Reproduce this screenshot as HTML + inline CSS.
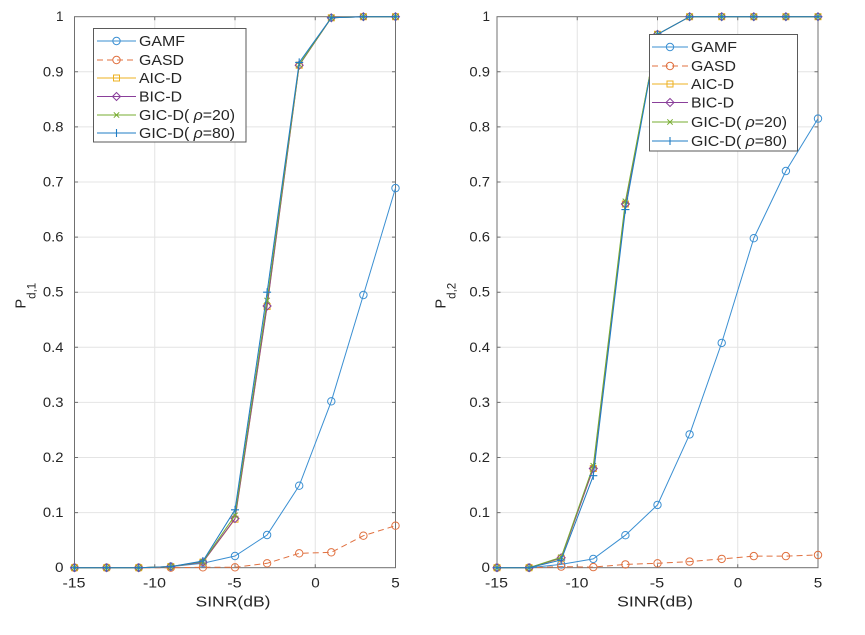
<!DOCTYPE html>
<html><head><meta charset="utf-8"><style>
html,body{margin:0;padding:0;background:#fff;}
svg{display:block;}
text{font-family:"Liberation Sans",Arial,sans-serif;fill:#262626;}
</style></head><body>
<svg width="865" height="635" viewBox="0 0 865 635" xmlns="http://www.w3.org/2000/svg">
<defs>
<marker id="mA" markerWidth="12" markerHeight="12" refX="6" refY="6" markerUnits="userSpaceOnUse" overflow="visible"><circle cx="6" cy="6" r="3.7" fill="none" stroke="#3a8fd2" stroke-width="1"/></marker>
<marker id="mB" markerWidth="12" markerHeight="12" refX="6" refY="6" markerUnits="userSpaceOnUse" overflow="visible"><circle cx="6" cy="6" r="3.7" fill="none" stroke="#e0703f" stroke-width="1"/></marker>
<marker id="mC" markerWidth="12" markerHeight="12" refX="6" refY="6" markerUnits="userSpaceOnUse" overflow="visible"><rect x="3" y="3" width="6" height="6" fill="none" stroke="#edb120" stroke-width="1"/></marker>
<marker id="mD" markerWidth="12" markerHeight="12" refX="6" refY="6" markerUnits="userSpaceOnUse" overflow="visible"><path d="M6 2 L10 6 L6 10 L2 6 Z" fill="none" stroke="#8a3f9a" stroke-width="1"/></marker>
<marker id="mE" markerWidth="12" markerHeight="12" refX="6" refY="6" markerUnits="userSpaceOnUse" overflow="visible"><path d="M3.3 3.3 L8.7 8.7 M8.7 3.3 L3.3 8.7" fill="none" stroke="#77ac30" stroke-width="1"/></marker>
<marker id="mF" markerWidth="12" markerHeight="12" refX="6" refY="6" markerUnits="userSpaceOnUse" overflow="visible"><path d="M6 2 L6 10 M2 6 L10 6" fill="none" stroke="#1f7cc4" stroke-width="1.1"/></marker>
</defs>

<!-- ============ LEFT AXES ============ -->
<g>
<rect x="74.5" y="16.7" width="321" height="551" fill="#fff"/>
<g stroke="#e4e4e4" stroke-width="1">
<line x1="154.75" y1="16.7" x2="154.75" y2="567.7"/>
<line x1="235" y1="16.7" x2="235" y2="567.7"/>
<line x1="315.25" y1="16.7" x2="315.25" y2="567.7"/>
<line x1="74.5" y1="512.6" x2="395.5" y2="512.6"/>
<line x1="74.5" y1="457.5" x2="395.5" y2="457.5"/>
<line x1="74.5" y1="402.4" x2="395.5" y2="402.4"/>
<line x1="74.5" y1="347.3" x2="395.5" y2="347.3"/>
<line x1="74.5" y1="292.2" x2="395.5" y2="292.2"/>
<line x1="74.5" y1="237.1" x2="395.5" y2="237.1"/>
<line x1="74.5" y1="182.0" x2="395.5" y2="182.0"/>
<line x1="74.5" y1="126.9" x2="395.5" y2="126.9"/>
<line x1="74.5" y1="71.8" x2="395.5" y2="71.8"/>
</g>
<g stroke="#707070" stroke-width="1">
<path d="M154.75 567.7 v-3.5 M235 567.7 v-3.5 M315.25 567.7 v-3.5 M154.75 16.7 v3.5 M235 16.7 v3.5 M315.25 16.7 v3.5"/>
<path d="M74.5 512.6 h3.5 M74.5 457.5 h3.5 M74.5 402.4 h3.5 M74.5 347.3 h3.5 M74.5 292.2 h3.5 M74.5 237.1 h3.5 M74.5 182 h3.5 M74.5 126.9 h3.5 M74.5 71.8 h3.5"/>
<path d="M395.5 512.6 h-3.5 M395.5 457.5 h-3.5 M395.5 402.4 h-3.5 M395.5 347.3 h-3.5 M395.5 292.2 h-3.5 M395.5 237.1 h-3.5 M395.5 182 h-3.5 M395.5 126.9 h-3.5 M395.5 71.8 h-3.5"/>
<rect x="74.5" y="16.7" width="321" height="551" fill="none"/>
</g>

<g fill="none" stroke-width="1">
<polyline stroke="#3a8fd2" marker-start="url(#mA)" marker-mid="url(#mA)" marker-end="url(#mA)" points="74.5,567.7 106.6,567.7 138.7,567.7 170.8,566.6 202.9,563.3 235,556 267.1,535 299.2,485.7 331.3,401.3 363.4,295 395.5,188.1"/>
<polyline stroke="#e0703f" stroke-dasharray="6,4" marker-start="url(#mB)" marker-mid="url(#mB)" marker-end="url(#mB)" points="74.5,567.7 106.6,567.7 138.7,567.7 170.8,567.7 202.9,567.3 235,567.3 267.1,563.3 299.2,553.3 331.3,552.3 363.4,535.7 395.5,525.7"/>
<polyline stroke="#edb120" marker-start="url(#mC)" marker-mid="url(#mC)" marker-end="url(#mC)" points="74.5,567.7 106.6,567.7 138.7,567.7 170.8,566.6 202.9,562.2 235,519.2 267.1,306.5 299.2,65.2 331.3,17.8 363.4,16.7 395.5,16.7"/>
<polyline stroke="#8a3f9a" marker-start="url(#mD)" marker-mid="url(#mD)" marker-end="url(#mD)" points="74.5,567.7 106.6,567.7 138.7,567.7 170.8,566.6 202.9,562.2 235,518.5 267.1,306 299.2,65.2 331.3,17.8 363.4,16.7 395.5,16.7"/>
<polyline stroke="#77ac30" marker-start="url(#mE)" marker-mid="url(#mE)" marker-end="url(#mE)" points="74.5,567.7 106.6,567.7 138.7,567.7 170.8,566.6 202.9,561.5 235,515.4 267.1,300.5 299.2,64.6 331.3,17.8 363.4,16.7 395.5,16.7"/>
<polyline stroke="#1f7cc4" marker-start="url(#mF)" marker-mid="url(#mF)" marker-end="url(#mF)" points="74.5,567.7 106.6,567.7 138.7,567.7 170.8,566.6 202.9,561 235,509.8 267.1,292.2 299.2,62.4 331.3,17.8 363.4,16.7 395.5,16.7"/>
</g>

<!-- legend left -->
<rect x="93.5" y="28.5" width="152.5" height="113.5" fill="#fff" stroke="#5a5a5a" stroke-width="1"/>
<g fill="none" stroke-width="1">
<polyline stroke="#3a8fd2" marker-mid="url(#mA)" points="97,41 116.5,41 136,41"/>
<polyline stroke="#e0703f" stroke-dasharray="6,4" marker-mid="url(#mB)" points="97,60 116.5,60 136,60"/>
<polyline stroke="#edb120" marker-mid="url(#mC)" points="97,78 116.5,78 136,78"/>
<polyline stroke="#8a3f9a" marker-mid="url(#mD)" points="97,96.5 116.5,96.5 136,96.5"/>
<polyline stroke="#77ac30" marker-mid="url(#mE)" points="97,115 116.5,115 136,115"/>
<polyline stroke="#1f7cc4" marker-mid="url(#mF)" points="97,133 116.5,133 136,133"/>
</g>
<g font-size="14.5">
<text x="139" y="46" textLength="46" lengthAdjust="spacingAndGlyphs">GAMF</text>
<text x="139" y="65" textLength="45" lengthAdjust="spacingAndGlyphs">GASD</text>
<text x="139" y="83" textLength="43" lengthAdjust="spacingAndGlyphs">AIC-D</text>
<text x="139" y="101.5" textLength="43" lengthAdjust="spacingAndGlyphs">BIC-D</text>
<text x="139" y="120" textLength="96" lengthAdjust="spacingAndGlyphs">GIC-D( <tspan font-style="italic">ρ</tspan>=20)</text>
<text x="139" y="138" textLength="96" lengthAdjust="spacingAndGlyphs">GIC-D( <tspan font-style="italic">ρ</tspan>=80)</text>
</g>

<!-- y tick labels left -->
<g font-size="13.5" text-anchor="end">
<text x="63.5" y="572.2" textLength="8.5" lengthAdjust="spacingAndGlyphs">0</text>
<text x="63.5" y="517.1" textLength="20.6" lengthAdjust="spacingAndGlyphs">0.1</text>
<text x="63.5" y="462" textLength="20.6" lengthAdjust="spacingAndGlyphs">0.2</text>
<text x="63.5" y="406.9" textLength="20.6" lengthAdjust="spacingAndGlyphs">0.3</text>
<text x="63.5" y="351.8" textLength="20.6" lengthAdjust="spacingAndGlyphs">0.4</text>
<text x="63.5" y="296.7" textLength="20.6" lengthAdjust="spacingAndGlyphs">0.5</text>
<text x="63.5" y="241.6" textLength="20.6" lengthAdjust="spacingAndGlyphs">0.6</text>
<text x="63.5" y="186.5" textLength="20.6" lengthAdjust="spacingAndGlyphs">0.7</text>
<text x="63.5" y="131.4" textLength="20.6" lengthAdjust="spacingAndGlyphs">0.8</text>
<text x="63.5" y="76.3" textLength="20.6" lengthAdjust="spacingAndGlyphs">0.9</text>
<text x="63.5" y="21.2" textLength="7.5" lengthAdjust="spacingAndGlyphs">1</text>
</g>
<g font-size="13.5" text-anchor="middle">
<text x="74" y="587.5" textLength="23" lengthAdjust="spacingAndGlyphs">-15</text>
<text x="154.5" y="587.5" textLength="23" lengthAdjust="spacingAndGlyphs">-10</text>
<text x="234.5" y="587.5" textLength="14.5" lengthAdjust="spacingAndGlyphs">-5</text>
<text x="315.5" y="587.5" textLength="8.5" lengthAdjust="spacingAndGlyphs">0</text>
<text x="395.5" y="587.5" textLength="8.5" lengthAdjust="spacingAndGlyphs">5</text>
</g>
<text x="233" y="606.5" font-size="15" text-anchor="middle" textLength="75" lengthAdjust="spacingAndGlyphs">SINR(dB)</text>
<text transform="translate(25.5,308.5) rotate(-90)" font-size="14.5">P<tspan font-size="11.5" dy="10">d,1</tspan></text>
</g>

<!-- ============ RIGHT AXES ============ -->
<g>
<rect x="497" y="16.7" width="321" height="551" fill="#fff"/>
<g stroke="#e4e4e4" stroke-width="1">
<line x1="577.25" y1="16.7" x2="577.25" y2="567.7"/>
<line x1="657.5" y1="16.7" x2="657.5" y2="567.7"/>
<line x1="737.75" y1="16.7" x2="737.75" y2="567.7"/>
<line x1="497" y1="512.6" x2="818" y2="512.6"/>
<line x1="497" y1="457.5" x2="818" y2="457.5"/>
<line x1="497" y1="402.4" x2="818" y2="402.4"/>
<line x1="497" y1="347.3" x2="818" y2="347.3"/>
<line x1="497" y1="292.2" x2="818" y2="292.2"/>
<line x1="497" y1="237.1" x2="818" y2="237.1"/>
<line x1="497" y1="182.0" x2="818" y2="182.0"/>
<line x1="497" y1="126.9" x2="818" y2="126.9"/>
<line x1="497" y1="71.8" x2="818" y2="71.8"/>
</g>
<g stroke="#707070" stroke-width="1">
<path d="M577.25 567.7 v-3.5 M657.5 567.7 v-3.5 M737.75 567.7 v-3.5 M577.25 16.7 v3.5 M657.5 16.7 v3.5 M737.75 16.7 v3.5"/>
<path d="M497 512.6 h3.5 M497 457.5 h3.5 M497 402.4 h3.5 M497 347.3 h3.5 M497 292.2 h3.5 M497 237.1 h3.5 M497 182 h3.5 M497 126.9 h3.5 M497 71.8 h3.5"/>
<path d="M818 512.6 h-3.5 M818 457.5 h-3.5 M818 402.4 h-3.5 M818 347.3 h-3.5 M818 292.2 h-3.5 M818 237.1 h-3.5 M818 182 h-3.5 M818 126.9 h-3.5 M818 71.8 h-3.5"/>
<rect x="497" y="16.7" width="321" height="551" fill="none"/>
</g>

<g fill="none" stroke-width="1">
<polyline stroke="#3a8fd2" marker-start="url(#mA)" marker-mid="url(#mA)" marker-end="url(#mA)" points="497,567.7 529.1,567.7 561.2,564.4 593.3,558.9 625.4,535.2 657.5,504.9 689.6,434.4 721.7,342.9 753.8,238.2 785.9,171 818,118.6"/>
<polyline stroke="#e0703f" stroke-dasharray="6,4" marker-start="url(#mB)" marker-mid="url(#mB)" marker-end="url(#mB)" points="497,567.7 529.1,567.7 561.2,566.6 593.3,567.1 625.4,564.4 657.5,563.3 689.6,561.6 721.7,558.9 753.8,556.1 785.9,556.1 818,555"/>
<polyline stroke="#edb120" marker-start="url(#mC)" marker-mid="url(#mC)" marker-end="url(#mC)" points="497,567.7 529.1,567.7 561.2,558.3 593.3,468.5 625.4,204 657.5,34.3 689.6,16.7 721.7,16.7 753.8,16.7 785.9,16.7 818,16.7"/>
<polyline stroke="#8a3f9a" marker-start="url(#mD)" marker-mid="url(#mD)" marker-end="url(#mD)" points="497,567.7 529.1,567.7 561.2,557.8 593.3,468.5 625.4,204 657.5,34.3 689.6,16.7 721.7,16.7 753.8,16.7 785.9,16.7 818,16.7"/>
<polyline stroke="#77ac30" marker-start="url(#mE)" marker-mid="url(#mE)" marker-end="url(#mE)" points="497,567.7 529.1,567.7 561.2,557.2 593.3,465.8 625.4,201.3 657.5,34.3 689.6,16.7 721.7,16.7 753.8,16.7 785.9,16.7 818,16.7"/>
<polyline stroke="#1f7cc4" marker-start="url(#mF)" marker-mid="url(#mF)" marker-end="url(#mF)" points="497,567.7 529.1,567.7 561.2,560 593.3,475.7 625.4,209.6 657.5,34.3 689.6,16.7 721.7,16.7 753.8,16.7 785.9,16.7 818,16.7"/>
</g>

<!-- legend right -->
<rect x="649.5" y="34.5" width="148" height="116.5" fill="#fff" stroke="#5a5a5a" stroke-width="1"/>
<g fill="none" stroke-width="1">
<polyline stroke="#3a8fd2" marker-mid="url(#mA)" points="652,47 670,47 688,47"/>
<polyline stroke="#e0703f" stroke-dasharray="6,4" marker-mid="url(#mB)" points="652,66 670,66 688,66"/>
<polyline stroke="#edb120" marker-mid="url(#mC)" points="652,84 670,84 688,84"/>
<polyline stroke="#8a3f9a" marker-mid="url(#mD)" points="652,102.5 670,102.5 688,102.5"/>
<polyline stroke="#77ac30" marker-mid="url(#mE)" points="652,122 670,122 688,122"/>
<polyline stroke="#1f7cc4" marker-mid="url(#mF)" points="652,141 670,141 688,141"/>
</g>
<g font-size="14.5">
<text x="691" y="52" textLength="46" lengthAdjust="spacingAndGlyphs">GAMF</text>
<text x="691" y="71" textLength="45" lengthAdjust="spacingAndGlyphs">GASD</text>
<text x="691" y="89" textLength="43" lengthAdjust="spacingAndGlyphs">AIC-D</text>
<text x="691" y="107.5" textLength="43" lengthAdjust="spacingAndGlyphs">BIC-D</text>
<text x="691" y="127" textLength="96" lengthAdjust="spacingAndGlyphs">GIC-D( <tspan font-style="italic">ρ</tspan>=20)</text>
<text x="691" y="146" textLength="96" lengthAdjust="spacingAndGlyphs">GIC-D( <tspan font-style="italic">ρ</tspan>=80)</text>
</g>

<g font-size="13.5" text-anchor="end">
<text x="490" y="572.2" textLength="8.5" lengthAdjust="spacingAndGlyphs">0</text>
<text x="490" y="517.1" textLength="20.6" lengthAdjust="spacingAndGlyphs">0.1</text>
<text x="490" y="462" textLength="20.6" lengthAdjust="spacingAndGlyphs">0.2</text>
<text x="490" y="406.9" textLength="20.6" lengthAdjust="spacingAndGlyphs">0.3</text>
<text x="490" y="351.8" textLength="20.6" lengthAdjust="spacingAndGlyphs">0.4</text>
<text x="490" y="296.7" textLength="20.6" lengthAdjust="spacingAndGlyphs">0.5</text>
<text x="490" y="241.6" textLength="20.6" lengthAdjust="spacingAndGlyphs">0.6</text>
<text x="490" y="186.5" textLength="20.6" lengthAdjust="spacingAndGlyphs">0.7</text>
<text x="490" y="131.4" textLength="20.6" lengthAdjust="spacingAndGlyphs">0.8</text>
<text x="490" y="76.3" textLength="20.6" lengthAdjust="spacingAndGlyphs">0.9</text>
<text x="490" y="21.2" textLength="7.5" lengthAdjust="spacingAndGlyphs">1</text>
</g>
<g font-size="13.5" text-anchor="middle">
<text x="496.5" y="587.5" textLength="23" lengthAdjust="spacingAndGlyphs">-15</text>
<text x="577" y="587.5" textLength="23" lengthAdjust="spacingAndGlyphs">-10</text>
<text x="657" y="587.5" textLength="14.5" lengthAdjust="spacingAndGlyphs">-5</text>
<text x="738" y="587.5" textLength="8.5" lengthAdjust="spacingAndGlyphs">0</text>
<text x="818" y="587.5" textLength="8.5" lengthAdjust="spacingAndGlyphs">5</text>
</g>
<text x="655" y="606.5" font-size="15" text-anchor="middle" textLength="76" lengthAdjust="spacingAndGlyphs">SINR(dB)</text>
<text transform="translate(445.5,308.5) rotate(-90)" font-size="14.5">P<tspan font-size="11.5" dy="10">d,2</tspan></text>
</g>
</svg>
</body></html>
